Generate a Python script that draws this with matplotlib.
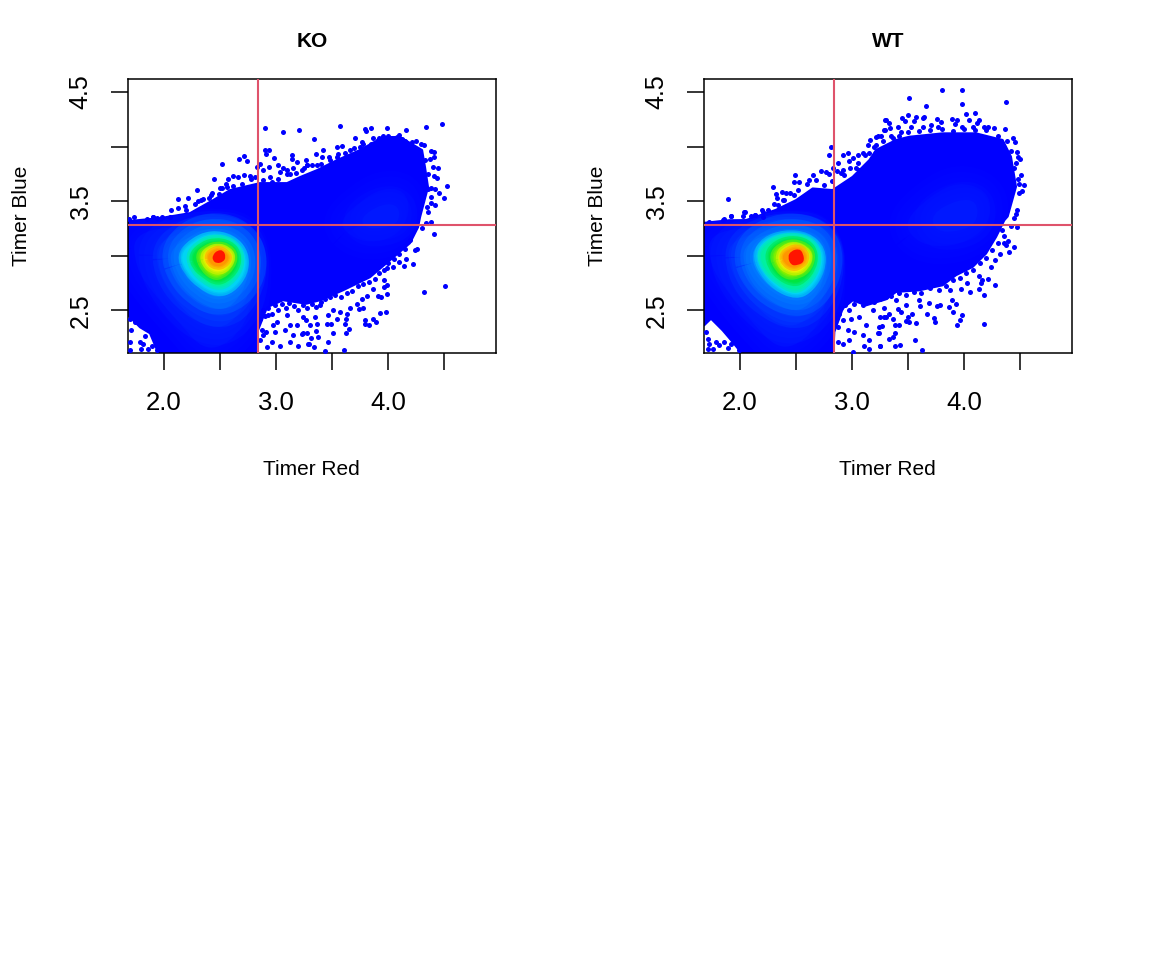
import matplotlib
matplotlib.use("Agg")
from matplotlib import pyplot as plt
from matplotlib.path import Path
from matplotlib.patches import PathPatch

plt.rcParams["font.family"] = ["Liberation Sans", "DejaVu Sans"]

# solid part of each cloud, outline
ko_body_x = [1.68, 1.786, 1.875, 1.946, 2.83, 2.839, 2.92, 3.063, 3.27, 3.393, 3.598, 3.839, 4.018, 4.196, 4.268,
             4.286, 4.357, 4.33, 4.304, 4.107, 3.955, 3.75, 3.545, 3.366, 3.214, 3.098, 2.857, 2.589, 2.438, 2.232,
             1.964, 1.68]
ko_body_y = [2.454, 2.344, 2.289, 2.115, 2.115, 2.317, 2.528, 2.592, 2.56, 2.592, 2.683, 2.803, 2.959, 3.115, 3.261,
             3.353, 3.628, 3.812, 3.968, 4.087, 4.087, 3.968, 3.876, 3.784, 3.72, 3.665, 3.665, 3.601, 3.509, 3.39,
             3.344, 3.317]
wt_body_x = [1.68, 1.741, 1.845, 1.934, 1.994, 2.0, 2.833, 2.842, 2.917, 3.006, 3.125, 3.303, 3.393, 3.601, 3.809,
             3.928, 4.077, 4.196, 4.286, 4.36, 4.39, 4.464, 4.419, 4.345, 4.107, 3.809, 3.512, 3.393, 3.214, 3.155,
             3.006, 2.827, 2.649, 2.5, 2.32, 2.053, 1.905, 1.68]
wt_body_y = [2.362, 2.423, 2.316, 2.209, 2.133, 2.115, 2.115, 2.301, 2.515, 2.591, 2.545, 2.6, 2.668, 2.683, 2.729,
             2.821, 2.897, 3.019, 3.172, 3.325, 3.36, 3.632, 3.907, 4.06, 4.121, 4.121, 4.09, 4.06, 3.968, 3.876,
             3.723, 3.601, 3.616, 3.509, 3.42, 3.326, 3.325, 3.301]

# stragglers outside the solid part
ko_x = [2.902, 3.062, 3.202, 2.899, 2.937, 2.908, 2.979, 3.143, 3.143, 3.187, 3.015, 2.857, 2.717, 2.67, 2.741, 2.515,
        2.827, 2.937, 3.065, 2.449, 2.292, 2.128, 2.211, 2.059, 2.128, 2.184, 1.732, 1.902, 1.979, 1.934, 2.053, 2.574,
        2.619, 2.714, 2.768, 2.306, 2.33, 2.402, 2.431, 2.488, 2.559, 2.515, 2.887, 3.036, 3.095, 3.155, 3.229, 3.274,
        3.125, 2.961, 2.812, 2.664,
        3.574, 3.791, 3.806, 3.851, 3.988, 4.16, 4.339, 4.485, 3.336, 3.705, 3.416, 3.36, 3.265, 3.476, 3.407, 3.547,
        3.586, 3.765, 3.869, 3.907, 3.958, 4.003, 4.101, 4.122, 4.154, 4.214, 4.253, 4.291, 4.321, 4.381, 4.413, 4.413,
        4.375, 4.401, 4.446, 4.41, 4.434, 4.527, 4.419, 4.455, 4.503, 4.387, 4.416, 4.36, 4.345, 3.363, 3.274, 3.541,
        3.66, 3.75, 3.482,
        4.381, 4.41, 4.256, 4.238, 4.16, 4.098, 4.22, 4.146, 4.041, 3.994, 3.967, 3.994, 3.964, 3.869, 4.506, 4.318,
        3.994, 3.913, 3.937, 3.809, 3.765, 3.72, 3.777, 3.741, 3.66, 3.631, 3.571, 3.982, 3.928, 3.863, 3.896, 3.794,
        3.794, 3.83, 3.622, 3.616, 3.541, 3.488, 3.452, 3.649, 3.625, 3.512, 3.467, 3.604, 3.437, 3.342, 3.294, 3.312,
        3.372, 3.354, 3.274, 3.303, 3.363, 3.268, 3.348, 3.229, 3.467, 3.393, 3.512,
        2.857, 2.911, 2.961, 3.036, 3.125, 3.199, 2.917, 2.991, 3.08, 3.155, 3.244, 3.289, 2.887, 2.931, 3.095, 3.244,
        3.006, 3.184, 2.872, 2.976, 3.125,
        1.696, 1.705, 1.815, 1.792, 1.89, 1.83, 1.696, 1.696, 1.741, 1.86, 1.934, 1.786,
        1.688, 1.848, 1.902]
ko_y = [4.173, 4.13, 4.149, 3.968, 3.965, 3.934, 3.898, 3.925, 3.885, 3.858, 3.83, 3.837, 3.913, 3.885, 3.867, 3.843,
        3.809, 3.809, 3.806, 3.699, 3.604, 3.522, 3.525, 3.421, 3.433, 3.451, 3.359, 3.356, 3.35, 3.347, 3.35, 3.702,
        3.73, 3.739, 3.73, 3.503, 3.509, 3.531, 3.571, 3.564, 3.632, 3.616, 3.785, 3.769, 3.785, 3.8, 3.785, 3.83,
        3.748, 3.678, 3.723, 3.717,
        4.185, 4.161, 4.145, 4.167, 4.17, 4.149, 4.179, 4.207, 4.072, 4.081, 3.971, 3.934, 3.876, 3.907, 3.901, 3.993,
        4.005, 4.038, 4.081, 4.063, 4.1, 4.1, 4.103, 4.069, 4.045, 4.045, 4.051, 4.023, 4.011, 3.959, 3.95, 3.901,
        3.885, 3.809, 3.803, 3.73, 3.708, 3.635, 3.607, 3.574, 3.531, 3.54, 3.463, 3.607, 3.448, 3.83, 3.83, 3.907,
        3.968, 4.0, 3.815,
        3.31, 3.197, 3.065, 3.05, 2.974, 2.94, 2.928, 2.903, 2.897, 2.891, 2.775, 2.729, 2.714, 2.698, 2.72, 2.671,
        2.649, 2.631, 2.625, 2.628, 2.607, 2.561, 2.524, 2.512, 2.521, 2.469, 2.484, 2.487, 2.472, 2.417, 2.396, 2.414,
        2.377, 2.365, 2.423, 2.377, 2.423, 2.371, 2.371, 2.325, 2.292, 2.289, 2.209, 2.139, 2.123, 2.16, 2.188, 2.243,
        2.258, 2.313, 2.295, 2.368, 2.377, 2.408, 2.438, 2.286, 2.454, 2.545, 2.5,
        2.224, 2.301, 2.209, 2.169, 2.209, 2.169, 2.163, 2.301, 2.316, 2.27, 2.292, 2.194, 2.27, 2.454, 2.454, 2.438,
        2.393, 2.362, 2.316, 2.362, 2.362,
        2.209, 2.316, 2.194, 2.148, 2.169, 2.261, 2.133, 2.423, 2.393, 2.148, 2.133, 2.209,
        3.335, 3.335, 3.353]

wt_x = [1.896, 2.297, 2.491, 2.479, 2.524, 2.318, 2.372, 2.33, 2.411, 2.815, 2.795, 3.297, 3.289, 3.229, 3.164, 3.14,
        2.961, 2.917, 2.976, 3.095, 3.05, 2.872, 2.723, 2.649, 2.768, 2.797, 2.863, 2.917, 2.619, 2.045, 2.131, 2.202,
        1.923, 1.854, 2.024, 2.247, 2.336, 2.396, 2.485, 3.006, 3.036, 3.155, 3.214, 2.827, 2.931, 3.065,
        1.92, 1.851, 2.039, 2.137, 1.726, 2.202,
        3.8, 3.979, 3.509, 3.663, 3.985, 4.375, 4.018, 4.095, 3.503, 3.449, 3.476, 3.571, 3.556, 3.646, 3.631, 3.756,
        3.794, 3.893, 3.937, 4.047, 3.922, 4.137, 4.116, 3.3, 3.333, 3.339, 3.291, 3.41, 3.527, 3.631, 3.705, 3.765,
        3.982, 4.077, 4.181, 4.214, 4.27, 4.369, 4.434, 4.458, 4.47, 4.503, 4.479, 4.449, 4.506, 4.488, 4.532, 4.515,
        4.494, 4.473, 4.464, 4.443, 3.369, 3.437, 3.259, 3.214,
        4.47, 4.422, 4.36, 4.393, 4.357, 4.375, 4.446, 4.399, 4.324, 4.279, 4.238, 4.211, 4.274, 4.16, 4.152, 4.131,
        4.134, 4.053, 4.181, 4.024, 3.97, 3.875, 3.893, 3.928, 3.869, 3.904, 3.979, 3.964, 3.934, 4.181, 3.788, 3.759,
        3.735, 3.741, 3.669, 3.607, 3.535, 3.571, 3.512, 3.482, 3.497, 3.437, 3.407, 3.333, 3.303, 3.25, 3.369, 3.384,
        3.422, 3.268, 3.238, 3.387, 3.363, 3.327, 3.562, 3.253, 3.381, 3.425, 3.622, 3.288, 3.482, 3.69, 3.601, 3.393,
        2.872, 2.917, 2.976, 3.11, 3.155, 3.253, 3.006, 3.095, 3.155, 3.235, 3.021, 2.961, 2.872, 2.917, 2.991, 3.125,
        3.244, 3.065, 3.289, 2.976, 3.184, 2.887,
        1.72, 1.711, 1.786, 1.86, 1.92, 1.756, 1.815, 1.696, 1.89, 1.711, 1.994]
wt_y = [3.519, 3.632, 3.739, 3.671, 3.671, 3.564, 3.586, 3.531, 3.577, 4.0, 3.922, 4.243, 4.152, 4.1, 4.06, 4.014,
        3.941, 3.922, 3.87, 3.944, 3.922, 3.846, 3.778, 3.736, 3.769, 3.748, 3.778, 3.785, 3.693, 3.399, 3.369, 3.402,
        3.363, 3.335, 3.363, 3.418, 3.463, 3.509, 3.555, 3.891, 3.8, 3.937, 4.014, 3.8, 3.739, 3.785,
        3.362, 3.331, 3.402, 3.371, 3.31, 3.356,
        4.522, 4.519, 4.448, 4.369, 4.39, 4.408, 4.298, 4.307, 4.289, 4.259, 4.237, 4.268, 4.237, 4.274, 4.259, 4.252,
        4.228, 4.249, 4.246, 4.246, 4.204, 4.24, 4.213, 4.24, 4.213, 4.167, 4.149, 4.176, 4.176, 4.182, 4.197, 4.176,
        4.176, 4.176, 4.182, 4.176, 4.167, 4.164, 4.081, 4.045, 3.953, 3.882, 3.907, 3.8, 3.739, 3.653, 3.647, 3.595,
        3.577, 3.418, 3.378, 3.341, 4.081, 4.136, 4.097, 4.09,
        3.264, 3.273, 3.178, 3.136, 3.12, 3.096, 3.081, 3.035, 3.013, 2.958, 2.897, 2.784, 2.735, 2.775, 2.753, 2.811,
        2.698, 2.665, 2.637, 2.75, 2.698, 2.683, 2.597, 2.555, 2.53, 2.484, 2.454, 2.408, 2.368, 2.374, 2.548, 2.539,
        2.429, 2.393, 2.469, 2.536, 2.469, 2.386, 2.393, 2.399, 2.438, 2.484, 2.509, 2.469, 2.438, 2.438, 2.417, 2.368,
        2.368, 2.356, 2.295, 2.295, 2.255, 2.237, 2.23, 2.172, 2.175, 2.181, 2.139, 2.524, 2.545, 2.567, 2.591, 2.591,
        2.209, 2.194, 2.224, 2.169, 2.148, 2.172, 2.117, 2.27, 2.224, 2.292, 2.301, 2.316, 2.347, 2.408, 2.423, 2.362,
        2.347, 2.438, 2.438, 2.5, 2.5, 2.469,
        2.194, 2.24, 2.209, 2.209, 2.194, 2.148, 2.178, 2.301, 2.157, 2.148, 2.133]

# dots crowding along the edge of the solid part
ko_edge_x = [2.86, 2.88, 2.90, 2.93, 2.96, 2.99, 3.02, 3.05, 3.09, 3.12, 3.16, 3.2, 3.24, 3.28, 3.32, 3.36, 3.4, 3.44,
             3.48, 3.53, 3.58, 3.63, 3.68, 3.73, 3.78, 3.83, 3.88, 3.92, 3.96, 4.0, 4.05, 4.1, 4.15, 4.2,
             2.2, 2.28, 2.35, 2.42, 2.5, 2.55, 2.62, 2.7, 2.78, 2.88, 2.95, 3.02, 3.1, 3.18, 3.25, 3.32, 3.4, 3.48,
             3.55, 3.62, 3.7, 3.78, 3.85, 3.92, 4.0, 4.08, 4.15, 4.22, 4.28, 4.33, 4.36, 4.38,
             4.38, 4.36, 4.34, 4.3]
ko_edge_y = [2.42, 2.5, 2.45, 2.52, 2.47, 2.55, 2.5, 2.56, 2.52, 2.57, 2.54, 2.5, 2.55, 2.52, 2.56, 2.53, 2.58, 2.6,
             2.62, 2.64, 2.62, 2.66, 2.68, 2.72, 2.74, 2.76, 2.79, 2.84, 2.87, 2.93, 2.97, 3.02, 3.06, 3.14,
             3.42, 3.47, 3.52, 3.56, 3.62, 3.66, 3.64, 3.66, 3.7, 3.69, 3.72, 3.7, 3.75, 3.76, 3.8, 3.83, 3.84, 3.88,
             3.93, 3.94, 3.99, 4.02, 4.02, 4.08, 4.06, 4.09, 4.05, 4.0, 3.95, 3.88, 3.75, 3.62,
             3.48, 3.4, 3.3, 3.25]
wt_edge_x = [2.87, 2.9, 2.94, 2.98, 3.02, 3.06, 3.1, 3.15, 3.2, 3.25, 3.3, 3.35, 3.42, 3.48, 3.55, 3.62, 3.7, 3.78,
             3.84, 3.9, 3.96, 4.02, 4.08, 4.14, 4.2, 4.25, 4.3, 4.34,
             2.1, 2.2, 2.3, 2.38, 2.45, 2.52, 2.6, 2.68, 2.75, 2.82, 2.9, 2.98, 3.05, 3.12, 3.2, 3.28, 3.35, 3.42, 3.5,
             3.6, 3.7, 3.8, 3.9, 4.0, 4.1, 4.2, 4.3, 4.38, 4.42, 4.46, 4.48]
wt_edge_y = [2.43, 2.52, 2.55, 2.6, 2.56, 2.6, 2.55, 2.6, 2.58, 2.6, 2.62, 2.63, 2.66, 2.64, 2.67, 2.66, 2.7, 2.69,
             2.72, 2.78, 2.8, 2.84, 2.87, 2.93, 2.98, 3.05, 3.12, 3.24,
             3.36, 3.42, 3.47, 3.51, 3.57, 3.6, 3.66, 3.69, 3.65, 3.68, 3.76, 3.8, 3.85, 3.92, 4.0, 4.05, 4.1, 4.1, 4.13,
             4.14, 4.15, 4.16, 4.14, 4.16, 4.15, 4.15, 4.1, 4.05, 3.96, 3.85, 3.7]

# density bands, outermost first, blue to red
band_colors = ["#000cff", "#0018ff", "#0010ff", "#0024ff", "#0050ff", "#0090ff", "#00d4f4", "#00f0a0", "#00e640",
               "#80f000", "#f0f000", "#ff9600", "#ff1400"]

ko_bands = [
    ([3.55, 3.75, 3.95, 4.15, 4.2, 4.1, 3.9, 3.7], [3.3, 3.5, 3.62, 3.6, 3.4, 3.2, 3.12, 3.15]),
    ([3.75, 3.95, 4.1, 4.1, 3.95, 3.8], [3.35, 3.48, 3.46, 3.3, 3.25, 3.25]),
    ([1.726, 2.351, 2.797, 2.797, 2.589, 2.351, 2.143, 1.905, 1.741], [3.234, 3.279, 3.234, 2.5, 2.194, 2.133, 2.377, 2.652, 2.897]),
    ([1.934, 2.351, 2.768, 2.783, 2.589, 2.351, 2.113, 1.934], [3.142, 3.264, 3.203, 2.652, 2.347, 2.347, 2.561, 2.867]),
    ([2.053, 2.381, 2.738, 2.768, 2.619, 2.44, 2.202, 2.068], [3.081, 3.249, 3.142, 2.805, 2.53, 2.5, 2.652, 2.867]),
    ([2.128, 2.232, 2.411, 2.619, 2.753, 2.753, 2.634, 2.47, 2.306, 2.187], [3.019, 3.157, 3.234, 3.203, 3.05, 2.836, 2.668, 2.607, 2.698, 2.836]),
    ([2.143, 2.247, 2.425, 2.619, 2.732, 2.723, 2.604, 2.47, 2.321, 2.202], [3.004, 3.126, 3.209, 3.157, 3.019, 2.836, 2.683, 2.652, 2.729, 2.851]),
    ([2.217, 2.306, 2.44, 2.604, 2.693, 2.678, 2.574, 2.47, 2.351, 2.262], [3.004, 3.111, 3.172, 3.142, 3.019, 2.867, 2.738, 2.708, 2.775, 2.867]),
    ([2.247, 2.336, 2.455, 2.589, 2.664, 2.649, 2.545, 2.455, 2.366, 2.277], [3.004, 3.096, 3.136, 3.111, 3.019, 2.882, 2.775, 2.76, 2.821, 2.897]),
    ([2.306, 2.366, 2.47, 2.574, 2.634, 2.604, 2.515, 2.44, 2.351], [3.004, 3.065, 3.105, 3.081, 3.004, 2.897, 2.815, 2.805, 2.882]),
    ([2.351, 2.396, 2.485, 2.574, 2.613, 2.574, 2.5, 2.425, 2.366], [3.004, 3.056, 3.087, 3.05, 2.989, 2.897, 2.851, 2.867, 2.928]),
    ([2.387, 2.44, 2.5, 2.559, 2.583, 2.536, 2.47, 2.405], [3.004, 3.05, 3.065, 3.026, 2.974, 2.912, 2.897, 2.934]),
    ([2.434, 2.476, 2.53, 2.553, 2.53, 2.47, 2.434], [3.004, 3.05, 3.05, 2.989, 2.943, 2.928, 2.958]),
]
wt_bands = [
    ([3.45, 3.7, 3.95, 4.2, 4.25, 4.15, 3.9, 3.6], [3.3, 3.55, 3.68, 3.6, 3.4, 3.2, 3.08, 3.1]),
    ([3.7, 3.95, 4.12, 4.12, 3.95, 3.75], [3.38, 3.52, 3.5, 3.3, 3.22, 3.22]),
    ([1.726, 2.351, 2.783, 2.783, 2.589, 2.351, 2.113, 1.875, 1.726], [3.234, 3.264, 3.234, 2.5, 2.224, 2.133, 2.377, 2.683, 2.928]),
    ([1.89, 2.351, 2.768, 2.783, 2.589, 2.351, 2.083, 1.905], [3.142, 3.258, 3.218, 2.652, 2.377, 2.347, 2.591, 2.867]),
    ([2.024, 2.381, 2.753, 2.774, 2.619, 2.44, 2.172, 2.039], [3.111, 3.249, 3.172, 2.805, 2.53, 2.484, 2.652, 2.867]),
    ([2.098, 2.187, 2.381, 2.619, 2.753, 2.753, 2.634, 2.5, 2.292, 2.143], [3.019, 3.142, 3.227, 3.209, 3.081, 2.851, 2.652, 2.597, 2.683, 2.851]),
    ([2.143, 2.217, 2.396, 2.604, 2.738, 2.732, 2.634, 2.5, 2.321, 2.187], [3.019, 3.142, 3.209, 3.188, 3.056, 2.867, 2.698, 2.628, 2.708, 2.867]),
    ([2.172, 2.262, 2.425, 2.619, 2.702, 2.684, 2.589, 2.485, 2.336, 2.217], [3.019, 3.126, 3.188, 3.157, 3.035, 2.867, 2.729, 2.674, 2.76, 2.882]),
    ([2.247, 2.321, 2.455, 2.604, 2.672, 2.649, 2.559, 2.47, 2.351, 2.277], [3.019, 3.111, 3.157, 3.126, 3.019, 2.882, 2.769, 2.744, 2.805, 2.897]),
    ([2.286, 2.366, 2.485, 2.604, 2.649, 2.613, 2.53, 2.425, 2.336], [3.004, 3.096, 3.126, 3.081, 3.004, 2.882, 2.821, 2.805, 2.882]),
    ([2.345, 2.387, 2.485, 2.589, 2.625, 2.589, 2.515, 2.411, 2.357], [3.004, 3.065, 3.105, 3.056, 2.989, 2.903, 2.842, 2.867, 2.928]),
    ([2.375, 2.434, 2.515, 2.583, 2.589, 2.545, 2.476, 2.396], [3.004, 3.056, 3.081, 3.035, 2.958, 2.912, 2.882, 2.928]),
    ([2.425, 2.455, 2.53, 2.565, 2.574, 2.515, 2.455], [2.989, 3.044, 3.065, 3.019, 2.943, 2.912, 2.912]),
]

x_ticks = [2.0, 2.5, 3.0, 3.5, 4.0, 4.5]
x_tick_labels = ["2.0", "", "3.0", "", "4.0", ""]
y_ticks = [2.5, 3.0, 3.5, 4.0, 4.5]
y_tick_labels = ["2.5", "", "3.5", "", "4.5"]
gate_x = 2.835
gate_y = 3.28


def rounded(xs, ys):
    # closed outline with the corners rounded off
    n = len(xs)
    verts = [((xs[-1] + xs[0]) / 2, (ys[-1] + ys[0]) / 2)]
    codes = [Path.MOVETO]
    for i in range(n):
        j = (i + 1) % n
        verts.append((xs[i], ys[i]))
        verts.append(((xs[i] + xs[j]) / 2, (ys[i] + ys[j]) / 2))
        codes.extend([Path.CURVE3, Path.CURVE3])
    return Path(verts, codes)


def panel(left, title, body_x, body_y, dots_x, dots_y, edge_x, edge_y, bands):
    ax = fig.add_axes([left / 1152, (960 - 352.5) / 960, 368.5 / 1152, 273.5 / 960])
    body = ax.fill(body_x, body_y, color="#0000ff", lw=1.5, joinstyle="round", zorder=1)[0]
    for k, ((xs, ys), c) in enumerate(zip(bands, band_colors)):
        p = rounded(xs, ys)
        # the faint outer bands fade out, the inner ones stay fairly crisp
        strokes = [26, 18, 10, 4] if k < 6 else [5, 2]
        alpha = 0.22 if k < 6 else 0.5
        if k == len(bands) - 1:
            strokes = []
        for w in strokes:
            stroke = ax.add_patch(PathPatch(p, facecolor="none", edgecolor=c, lw=w, alpha=alpha, zorder=2,
                                            joinstyle="round"))
            stroke.set_clip_path(body)
        fill = ax.add_patch(PathPatch(p, facecolor=c, edgecolor="none", zorder=2))
        fill.set_clip_path(body)
    ax.scatter(dots_x, dots_y, s=13, color="#0000ff", linewidths=0, zorder=3)
    ax.scatter(edge_x, edge_y, s=13, color="#0000ff", linewidths=0, zorder=3)
    ax.axvline(gate_x, color="#DF536B", lw=1.5, zorder=4)
    ax.axhline(gate_y, color="#DF536B", lw=1.5, zorder=4)
    ax.set_xlim(1.674, 4.964)
    ax.set_ylim(2.113, 4.619)
    ax.set_xticks(x_ticks)
    ax.set_xticklabels(x_tick_labels, fontsize=18.5)
    ax.set_yticks(y_ticks)
    ax.set_yticklabels(y_tick_labels, fontsize=18, rotation=90, va="center")
    ax.tick_params(axis="x", length=12, width=1.1, pad=16)
    ax.tick_params(axis="y", length=12, width=1.1, pad=13)
    for s in ax.spines.values():
        s.set_linewidth(1.1)
    ax.set_xlabel("Timer Red", fontsize=15, labelpad=32)
    ax.set_ylabel("Timer Blue", fontsize=15, labelpad=27.5)
    ax.set_title(title, fontsize=15, fontweight="bold", pad=23)


fig = plt.figure(figsize=(11.52, 9.6), dpi=100)
panel(127.5, "KO", ko_body_x, ko_body_y, ko_x, ko_y, ko_edge_x, ko_edge_y, ko_bands)
panel(703.5, "WT", wt_body_x, wt_body_y, wt_x, wt_y, wt_edge_x, wt_edge_y, wt_bands)
fig.savefig("out.png", dpi=100)
